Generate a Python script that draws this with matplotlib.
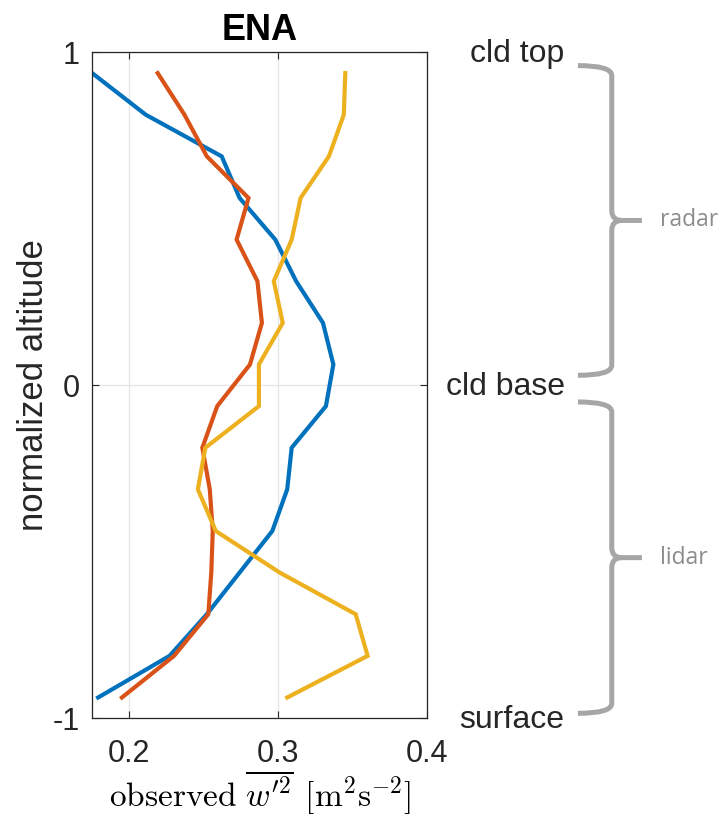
import numpy as np
import matplotlib
matplotlib.use("Agg")
import matplotlib.pyplot as plt
from matplotlib.path import Path
from matplotlib.patches import PathPatch
from matplotlib.transforms import blended_transform_factory

plt.rcParams['font.family'] = ['Liberation Sans', 'DejaVu Sans']
plt.rcParams['mathtext.fontset'] = 'cm'

# normalized altitude levels (16 bins between surface and cloud top)
z = [0.9375, 0.8125, 0.6875, 0.5625, 0.4375, 0.3125, 0.1875, 0.0625,
     -0.0625, -0.1875, -0.3125, -0.4375, -0.5625, -0.6875, -0.8125, -0.9375]

# observed vertical velocity variance profiles
w2_blue = [0.175, 0.211, 0.262, 0.274, 0.298, 0.312, 0.330, 0.337,
           0.332, 0.309, 0.306, 0.296, 0.274, 0.252, 0.227, 0.179]
w2_red = [0.219, 0.237, 0.252, 0.280, 0.272, 0.286, 0.289, 0.281,
          0.259, 0.249, 0.254, 0.256, 0.255, 0.253, 0.230, 0.195]
w2_yellow = [0.345, 0.344, 0.334, 0.315, 0.309, 0.297, 0.303, 0.287,
             0.287, 0.251, 0.246, 0.258, 0.301, 0.352, 0.360, 0.306]

colors = ['#0072BD', '#D95319', '#EDB120']

yticks = [-1, 0, 1]
xticks = [0.2, 0.3, 0.4]
level_names = ['surface', 'cld base', 'cld top']
# brace spans (top, bottom) and instrument names
brace_spans = [(0.96, 0.03), (-0.05, -0.985)]
brace_names = ['radar', 'lidar']

fig = plt.figure(figsize=(7.2, 8.17), dpi=100)
ax = fig.add_axes([0.128, 0.1208, 0.4653, 0.8152])

for w2, c in zip([w2_blue, w2_red, w2_yellow], colors):
    ax.plot(w2, z, color=c, lw=3.0, solid_joinstyle='miter', clip_on=True)

ax.set_xlim(0.175, 0.4)
ax.set_ylim(-1, 1)
ax.set_xticks(xticks)
ax.set_xticklabels(['0.2', '0.3', '0.4'])
ax.set_yticks(yticks)
ax.set_yticklabels(['-1', '0', '1'])
ax.grid(True, color='#e6e6e6', lw=1.0)
ax.set_axisbelow(True)
ax.tick_params(direction='in', length=5, width=0.8, top=True, right=True,
               labelsize=22, colors='#262626')
ax.tick_params(axis='x', pad=15)
ax.tick_params(axis='y', pad=9)
for s in ax.spines.values():
    s.set_color('#262626')
    s.set_linewidth(0.9)

ax.set_title('ENA', fontsize=26, fontweight='bold', pad=9)
ax.set_ylabel('normalized altitude', fontsize=25, color='#262626', labelpad=2)
ax.set_xlabel(r'$\mathrm{observed}\ \overline{w^{\prime 2}}\;\, [\mathrm{m}^2\mathrm{s}^{-2}]$',
              fontsize=24, labelpad=0)

# labels and braces to the right of the axes
tr = blended_transform_factory(ax.transAxes, ax.transData)
for yv, name in zip(yticks, level_names):
    ax.text(1.41, yv - 0.005, name, transform=tr, ha='right', va='center',
            fontsize=23, color='#262626', clip_on=False)


def brace(top, bot, x0=1.45, x1=1.551, xtip=1.641, r=0.03):
    mid = 0.5 * (top + bot)
    verts = [(x0, top), (x1, top), (x1, top - r),
             (x1, mid + r), (x1, mid), (x1 + r, mid), (xtip, mid),
             (x1 + r, mid), (x1, mid), (x1, mid - r),
             (x1, bot + r), (x1, bot), (x0, bot)]
    codes = [Path.MOVETO, Path.CURVE3, Path.CURVE3,
             Path.LINETO, Path.CURVE3, Path.CURVE3, Path.LINETO,
             Path.MOVETO, Path.CURVE3, Path.CURVE3,
             Path.LINETO, Path.CURVE3, Path.CURVE3]
    return PathPatch(Path(verts, codes), transform=tr, fill=False,
                     ec='#a6a6a6', lw=3.6, capstyle='butt', clip_on=False)


for (top, bot), name in zip(brace_spans, brace_names):
    ax.add_patch(brace(top, bot))
    ax.text(1.695, 0.5 * (top + bot), name, transform=tr, ha='left',
            va='center', fontsize=16.5, color='#8c8c8c', family='Open Sans',
            clip_on=False)

fig.savefig('out.png', dpi=100)
